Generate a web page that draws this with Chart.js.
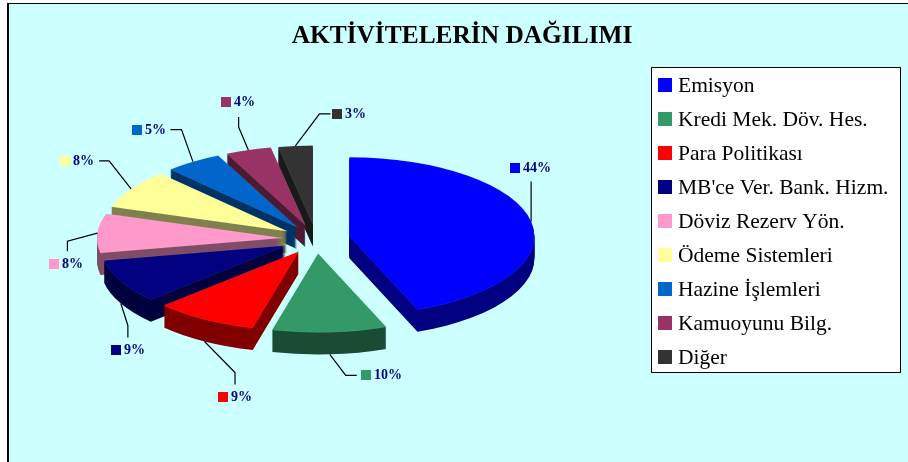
<!DOCTYPE html>
<html>
<head>
<meta charset="utf-8">
<title>Aktivitelerin Dağılımı</title>
<style>
	html, body { margin: 0; padding: 0; background: #ffffff; overflow: hidden; }
	#panel {
		position: absolute; left: 7px; top: 3px; right: 0; bottom: 0;
		background: #ccffff; border-left: 2px solid #000000; border-top: 1px solid #000000;
	}
	#chart { position: absolute; left: 0; top: 0; }
</style>
<script src="https://cdn.jsdelivr.net/npm/chart.js@4/dist/chart.umd.js"></script>
</head>
<body>
<div id="panel"></div>
<canvas id="chart" width="908" height="462"></canvas>
<script>
var categories = ["Emisyon", "Kredi Mek. Döv. Hes.", "Para Politikası", "MB'ce Ver. Bank. Hizm.", "Döviz Rezerv Yön.", "Ödeme Sistemleri", "Hazine İşlemleri", "Kamuoyunu Bilg.", "Diğer"];
var shares = [44, 10, 9, 9, 8, 8, 5, 4, 3];
var colors = ["#0000ff", "#339966", "#ff0000", "#000080", "#ff99cc", "#ffff99", "#0066cc", "#993366", "#333333"];
var wallColors = ["#000080", "#1a4d33", "#800000", "#000040", "#804d66", "#80804d", "#003366", "#4d1a33", "#1a1a1a"];

// leader line bends relative to the rim, then the label relative to the line end
var leaderBends = [[[0, -40]], [[16, 21], [27, 21]], [[30.5, 31], [30.5, 43]], [[7, 22], [7, 34]], [[-30, 8], [-30, 18]], [[-22, -28], [-32, -28]], [[-11.4, -32], [-22.4, -32]], [[-9.7, -23], [-9.7, -33]], [[24.1, -32], [35.1, -32]]];
var labelOffsets = [[-21, -13], [4, 0], [-17, 13], [-17, 13], [-18, 13], [-39, 0], [-39, 0], [-18, -15], [2, 0]];

var pie3d = { x: 316, y: 239, radius: 185, explode: 34, squash: 0.427, depth: 22 };
var legendBox = { left: 651, top: 67, right: 900, bottom: 372, swatchX: 658, textX: 678, firstY: 85, rowGap: 34 };

function drawSlice(ctx, arc, yShift, fill, edge) {
	var mid = (arc.startAngle + arc.endAngle) / 2;
	var copy = Object.create(arc);
	copy.options = Object.assign({}, arc.options, {
		backgroundColor: fill,
		borderColor: edge || fill,
		borderWidth: edge ? 0.7 : 0,
	});
	ctx.save();
	ctx.translate(pie3d.x, pie3d.y + yShift);
	ctx.scale(1, pie3d.squash);
	ctx.translate(Math.cos(mid) * pie3d.explode - arc.x, Math.sin(mid) * pie3d.explode - arc.y);
	copy.draw(ctx);
	ctx.restore();
}

function drawLabels(ctx, arcs) {
	arcs.forEach(function (arc, i) {
		var mid = (arc.startAngle + arc.endAngle) / 2;
		var reach = pie3d.radius + pie3d.explode;
		var x = pie3d.x + Math.cos(mid) * reach;
		var y = pie3d.y + Math.sin(mid) * reach * pie3d.squash;
		if (Math.sin(mid) > 0.3) {
			y += pie3d.depth;
		}
		ctx.strokeStyle = "#000000";
		ctx.lineWidth = 1.2;
		ctx.beginPath();
		ctx.moveTo(x, y);
		var endX = x, endY = y;
		leaderBends[i].forEach(function (bend) {
			endX = x + bend[0];
			endY = y + bend[1];
			ctx.lineTo(endX, endY);
		});
		ctx.stroke();

		var labelX = Math.round(endX + labelOffsets[i][0]);
		var labelY = Math.round(endY + labelOffsets[i][1]);
		ctx.fillStyle = colors[i];
		ctx.fillRect(labelX, labelY - 5, 10, 10);
		ctx.fillStyle = "#000080";
		ctx.font = "bold 14px 'Liberation Serif'";
		ctx.textAlign = "left";
		ctx.textBaseline = "middle";
		ctx.fillText(shares[i] + "%", labelX + 13, labelY);
	});
}

function drawLegend(ctx) {
	var box = legendBox;
	ctx.fillStyle = "#ffffff";
	ctx.fillRect(box.left, box.top, box.right - box.left, box.bottom - box.top);
	ctx.strokeStyle = "#000000";
	ctx.lineWidth = 1;
	ctx.strokeRect(box.left + 0.5, box.top + 0.5, box.right - box.left, box.bottom - box.top);
	categories.forEach(function (name, i) {
		var y = box.firstY + i * box.rowGap;
		ctx.fillStyle = colors[i];
		ctx.fillRect(box.swatchX, y - 7, 14, 14);
		ctx.fillStyle = "#000000";
		ctx.font = "21.5px 'Liberation Serif'";
		ctx.textAlign = "left";
		ctx.textBaseline = "middle";
		ctx.fillText(name, box.textX, y + 1);
	});
}

var pie3dPlugin = {
	id: "pie3d",
	beforeDatasetsDraw: function (chart) {
		var ctx = chart.ctx;
		var arcs = chart.getDatasetMeta(0).data;
		// back to front, so nearer slices cover the walls behind them
		var order = arcs.map(function (arc, i) {
			return i;
		}).sort(function (a, b) {
			return Math.sin((arcs[a].startAngle + arcs[a].endAngle) / 2) - Math.sin((arcs[b].startAngle + arcs[b].endAngle) / 2);
		});
		order.forEach(function (i) {
			for (var d = pie3d.depth; d > 0; d--) {
				drawSlice(ctx, arcs[i], d, wallColors[i]);
			}
			drawSlice(ctx, arcs[i], 0, colors[i], "rgba(255, 255, 255, 0.15)");
		});
		drawLabels(ctx, arcs);
		drawLegend(ctx);
		return false;
	},
};

new Chart(document.getElementById("chart"), {
	type: "pie",
	data: {
		labels: categories,
		datasets: [
			{
				data: shares,
				backgroundColor: colors,
				borderWidth: 0,
			},
		],
	},
	options: {
		responsive: false,
		animation: false,
		radius: pie3d.radius,
		layout: { padding: { left: 16 } },
		plugins: {
			legend: { display: false },
			tooltip: { enabled: false },
			title: {
				display: true,
				text: "AKTİVİTELERİN DAĞILIMI",
				color: "#000000",
				font: { family: "'Liberation Serif'", size: 25.4, weight: "bold" },
				padding: { top: 21, bottom: 10 },
			},
		},
	},
	plugins: [pie3dPlugin],
});
</script>
</body>
</html>
